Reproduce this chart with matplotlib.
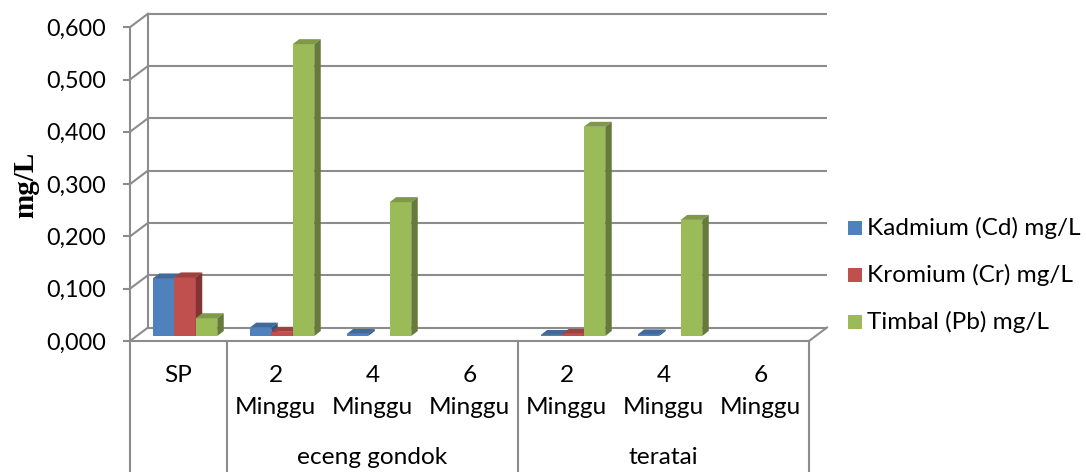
import matplotlib
matplotlib.use("Agg")
import matplotlib.pyplot as plt
from matplotlib.patches import Polygon, Rectangle
import numpy as np

# ---------------- data ----------------
sub_labels = ["SP", "2\nMinggu", "4\nMinggu", "6\nMinggu", "2\nMinggu", "4\nMinggu", "6\nMinggu"]
groups = ["eceng gondok", "teratai"]
group_spans = [(1, 4), (4, 7)]
series_names = ["Kadmium (Cd) mg/L", "Kromium (Cr) mg/L", "Timbal (Pb) mg/L"]
cd = [0.110, 0.016, 0.004, 0.0, 0.002, 0.003, 0.0]
cr = [0.112, 0.008, 0.0, 0.0, 0.004, 0.0, 0.0]
pb = [0.034, 0.558, 0.256, 0.0, 0.400, 0.222, 0.0]
yticks = [0.0, 0.1, 0.2, 0.3, 0.4, 0.5, 0.6]
colors = ["#4F81BD", "#C0504D", "#9BBB59"]

# ---------------- geometry ----------------
W, H, DPI = 1086, 472, 100
PX_CAT = 97.0      # pixels per category
PX_VAL = 523.0     # pixels per 1.0 value
ax_l, ax_r, ax_t, ax_b = 130, 830, 8, 341

font = "Lato"
grid_c = "#8C8C8C"
lw = 1.5

fig = plt.figure(figsize=(W / DPI, H / DPI), dpi=DPI)
ax = fig.add_axes([ax_l / W, 1 - ax_b / H, (ax_r - ax_l) / W, (ax_b - ax_t) / H])
ax.set_xlim(0, (ax_r - ax_l) / PX_CAT)
ax.set_ylim(0, (ax_b - ax_t) / PX_VAL)
ax.patch.set_alpha(0)

def dxp(p):
    return p / PX_CAT

def dyp(p):
    return p / PX_VAL

DX, DY = dxp(18), dyp(13.5)     # wall depth
BX, BY = dxp(6.5), dyp(5)       # bar plane offset
BDX, BDY = dxp(6.5), dyp(5)     # bar own depth
ncat = len(sub_labels)

# walls / grid
for v in yticks:
    ax.plot([DX, ncat + DX], [v + DY, v + DY], color=grid_c, lw=lw, zorder=1,
            solid_capstyle="butt")
    ax.plot([0, DX], [v, v + DY], color=grid_c, lw=lw, zorder=1)
ax.plot([DX, DX], [DY, yticks[-1] + DY], color=grid_c, lw=lw, zorder=1)
ax.plot([ncat, ncat + DX], [0, DY], color=grid_c, lw=lw, zorder=1, clip_on=False)

# spines / ticks
for s in ["top", "right"]:
    ax.spines[s].set_visible(False)
ax.spines["left"].set_bounds(0, yticks[-1])
ax.spines["left"].set_color(grid_c)
ax.spines["left"].set_linewidth(lw)
ax.spines["bottom"].set_bounds(0, ncat)
ax.spines["bottom"].set_color(grid_c)
ax.spines["bottom"].set_linewidth(lw)
ax.set_xticks([])
ax.set_yticks(yticks)
ax.set_yticklabels([f"{v:.3f}".replace(".", ",") for v in yticks],
                   fontfamily=font, fontsize=16.8)
ax.tick_params(axis="y", direction="out", length=5, width=lw, color=grid_c, pad=12)

# bars
w = dxp(21.5)
series = [cd, cr, pb]
z = 3
for i in range(ncat):
    for j, vals in enumerate(series):
        h = vals[i]
        if h <= 0:
            continue
        x = i + 0.5 - 1.5 * w + j * w + BX
        col = np.array(matplotlib.colors.to_rgb(colors[j]))
        ax.bar(x, h, width=w, bottom=BY, align="edge", color=colors[j],
               linewidth=0, zorder=z)
        top = Polygon([(x, BY + h), (x + BDX, BY + h + BDY),
                       (x + w + BDX, BY + h + BDY), (x + w, BY + h)],
                      closed=True, facecolor=col * 0.82, edgecolor="none", zorder=z)
        side = Polygon([(x + w, BY), (x + w, BY + h), (x + w + BDX, BY + h + BDY),
                        (x + w + BDX, BY + BDY)],
                       closed=True, facecolor=col * 0.66, edgecolor="none", zorder=z)
        ax.add_patch(top)
        ax.add_patch(side)
        z += 1

# category table
ybot = -(H - ax_b) / PX_VAL
for xv in [0, 1, 4, 7]:
    ax.plot([xv, xv], [0, ybot], color=grid_c, lw=lw, clip_on=False, zorder=1)

cat_fs = 17.6
y_row1 = dyp(ax_b - 375)
y_row1b = dyp(ax_b - 407)
y_row2 = dyp(ax_b - 458)
for i, lab in enumerate(sub_labels):
    parts = lab.split("\n")
    ax.text(i + 0.5, y_row1, parts[0], ha="center", va="center",
            fontfamily=font, fontsize=cat_fs, clip_on=False)
    if len(parts) > 1:
        ax.text(i + 0.5, y_row1b, parts[1], ha="center", va="center",
                fontfamily=font, fontsize=cat_fs, clip_on=False)
for g, (a, b) in zip(groups, group_spans):
    ax.text((a + b) / 2, y_row2, g, ha="center", va="center",
            fontfamily=font, fontsize=cat_fs, clip_on=False)

# y label
fig.text(26 / W, 1 - 185 / H, "mg/L", rotation=90, ha="center", va="center",
         fontfamily="Liberation Serif", fontweight="bold", fontsize=21)

# legend
leg_y = [228, 275, 322]
for name, c, yy in zip(series_names, colors, leg_y):
    fig.patches.append(Rectangle((848 / W, 1 - (yy + 7) / H), 14 / W, 14 / H,
                                 transform=fig.transFigure, facecolor=c,
                                 edgecolor="none"))
    fig.text(867 / W, 1 - yy / H, name, ha="left", va="center",
             fontfamily=font, fontsize=17.6)

fig.savefig("out.png", dpi=DPI)
